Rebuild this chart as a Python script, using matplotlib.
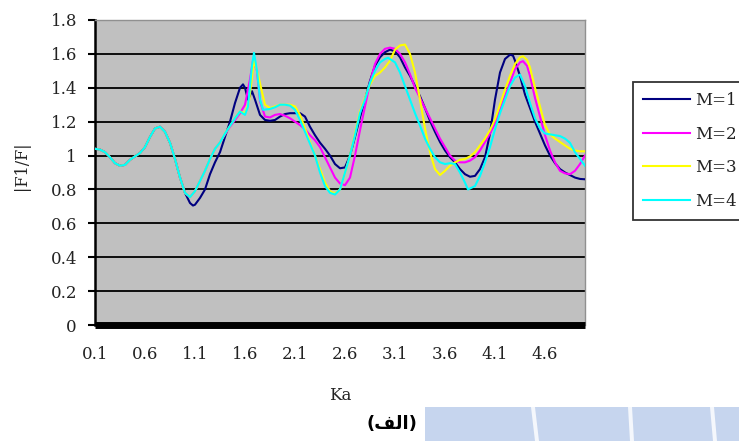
import matplotlib
matplotlib.use("Agg")
import matplotlib.pyplot as plt
from matplotlib.patches import Rectangle, Polygon

# ---------------- data ----------------
ka_common = [0.1, 0.15, 0.2, 0.25, 0.3, 0.35, 0.4, 0.45, 0.5, 0.55, 0.6, 0.65,
             0.7, 0.75, 0.8, 0.85, 0.9, 0.95]
f_common = [1.04, 1.035, 1.02, 0.99, 0.955, 0.94, 0.945, 0.975, 0.995, 1.015, 1.05, 1.11,
            1.16, 1.17, 1.14, 1.075, 0.98, 0.87]

ka_m1 = [1.0, 1.05, 1.08, 1.1, 1.15, 1.2, 1.25, 1.3, 1.35, 1.4, 1.45, 1.5, 1.55, 1.58,
         1.6, 1.63, 1.67, 1.7, 1.75, 1.8, 1.85, 1.9, 1.95, 2.0, 2.05, 2.1, 2.15, 2.2,
         2.25, 2.3, 2.35, 2.4, 2.45, 2.5, 2.55, 2.6, 2.65, 2.7, 2.75, 2.8, 2.85, 2.9,
         2.95, 3.0, 3.05, 3.1, 3.15, 3.2, 3.25, 3.3, 3.35, 3.4, 3.45, 3.5, 3.55, 3.6,
         3.65, 3.7, 3.75, 3.8, 3.85, 3.9, 3.95, 4.0, 4.05, 4.1, 4.15, 4.2, 4.25, 4.28,
         4.3, 4.35, 4.4, 4.45, 4.5, 4.55, 4.6, 4.65, 4.7, 4.75, 4.8, 4.85, 4.9, 4.95, 5.0]
f_m1 = [0.78, 0.72, 0.705, 0.71, 0.75, 0.8, 0.89, 0.96, 1.02, 1.11, 1.2, 1.31, 1.4, 1.42,
        1.4, 1.33, 1.38, 1.33, 1.24, 1.21, 1.205, 1.21, 1.23, 1.245, 1.25, 1.25, 1.25, 1.23,
        1.17, 1.12, 1.076, 1.04, 1.0, 0.95, 0.925, 0.93, 1.0, 1.11, 1.225, 1.33, 1.44, 1.53,
        1.58, 1.61, 1.625, 1.615, 1.58, 1.52, 1.47, 1.41, 1.35, 1.28, 1.205, 1.14, 1.08, 1.03,
        0.99, 0.96, 0.92, 0.89, 0.875, 0.88, 0.92, 0.99, 1.13, 1.33, 1.49, 1.57, 1.595, 1.59,
        1.56, 1.47, 1.36, 1.28, 1.2, 1.13, 1.06, 1.0, 0.955, 0.92, 0.9, 0.885, 0.87, 0.862, 0.86]

ka_m2 = [1.0, 1.05, 1.1, 1.15, 1.2, 1.25, 1.3, 1.35, 1.4, 1.45, 1.5, 1.55, 1.6, 1.65,
         1.68, 1.72, 1.75, 1.8, 1.85, 1.9, 1.95, 2.0, 2.05, 2.1, 2.15, 2.2, 2.25, 2.3,
         2.35, 2.4, 2.45, 2.5, 2.55, 2.6, 2.65, 2.7, 2.75, 2.8, 2.85, 2.9, 2.95, 3.0,
         3.05, 3.1, 3.15, 3.2, 3.25, 3.3, 3.35, 3.4, 3.45, 3.5, 3.55, 3.6, 3.65, 3.7,
         3.75, 3.8, 3.85, 3.9, 3.95, 4.0, 4.05, 4.1, 4.15, 4.2, 4.25, 4.3, 4.35, 4.38,
         4.42, 4.45, 4.5, 4.55, 4.6, 4.65, 4.7, 4.75, 4.8, 4.85, 4.9, 4.95, 5.0]
f_m2 = [0.78, 0.755, 0.79, 0.85, 0.91, 0.98, 1.04, 1.077, 1.125, 1.17, 1.21, 1.25, 1.3, 1.45,
        1.56, 1.5, 1.32, 1.23, 1.225, 1.24, 1.245, 1.235, 1.22, 1.2, 1.18, 1.155, 1.12, 1.09,
        1.05, 0.99, 0.93, 0.87, 0.835, 0.825, 0.87, 1.0, 1.15, 1.29, 1.43, 1.54, 1.6, 1.63,
        1.637, 1.63, 1.6, 1.55, 1.48, 1.4, 1.34, 1.28, 1.22, 1.16, 1.1, 1.05, 1.0, 0.97,
        0.96, 0.96, 0.97, 0.99, 1.03, 1.08, 1.13, 1.19, 1.27, 1.35, 1.43, 1.51, 1.55, 1.557,
        1.53, 1.47, 1.34, 1.23, 1.12, 1.03, 0.96, 0.91, 0.895, 0.89, 0.91, 0.95, 1.0]

ka_m3 = [1.0, 1.05, 1.1, 1.15, 1.2, 1.25, 1.3, 1.35, 1.4, 1.45, 1.5, 1.55, 1.6, 1.64,
         1.69, 1.73, 1.76, 1.8, 1.85, 1.9, 1.95, 2.0, 2.05, 2.1, 2.15, 2.2, 2.25, 2.3,
         2.35, 2.4, 2.45, 2.5, 2.55, 2.6, 2.65, 2.7, 2.75, 2.8, 2.85, 2.9, 2.95, 3.0,
         3.05, 3.1, 3.15, 3.2, 3.25, 3.3, 3.35, 3.4, 3.45, 3.5, 3.55, 3.6, 3.65, 3.7,
         3.75, 3.8, 3.85, 3.9, 3.95, 4.0, 4.05, 4.1, 4.15, 4.2, 4.25, 4.3, 4.35, 4.38,
         4.42, 4.45, 4.5, 4.55, 4.6, 4.65, 4.7, 4.75, 4.8, 4.85, 4.9, 4.95, 5.0]
f_m3 = [0.78, 0.755, 0.79, 0.85, 0.91, 0.98, 1.04, 1.077, 1.13, 1.175, 1.22, 1.26, 1.25, 1.32,
        1.56, 1.48, 1.4, 1.3, 1.28, 1.29, 1.3, 1.3, 1.3, 1.29, 1.24, 1.16, 1.08, 1.0,
        0.92, 0.84, 0.79, 0.775, 0.8, 0.9, 1.0, 1.13, 1.26, 1.34, 1.42, 1.47, 1.49, 1.52,
        1.56, 1.625, 1.65, 1.655, 1.6, 1.49, 1.33, 1.16, 1.02, 0.92, 0.885, 0.91, 0.94, 0.96,
        0.975, 0.98, 0.995, 1.02, 1.06, 1.1, 1.15, 1.215, 1.3, 1.39, 1.47, 1.54, 1.58, 1.586,
        1.565, 1.52, 1.4, 1.29, 1.18, 1.125, 1.1, 1.08, 1.06, 1.04, 1.03, 1.025, 1.025]

ka_m4 = [1.0, 1.05, 1.1, 1.15, 1.2, 1.25, 1.3, 1.35, 1.4, 1.45, 1.5, 1.55, 1.6, 1.63,
         1.67, 1.69, 1.72, 1.75, 1.78, 1.85, 1.9, 1.95, 2.0, 2.05, 2.1, 2.15, 2.2, 2.25,
         2.3, 2.35, 2.4, 2.45, 2.5, 2.55, 2.6, 2.65, 2.7, 2.75, 2.8, 2.85, 2.9, 2.95,
         3.0, 3.03, 3.1, 3.15, 3.2, 3.25, 3.3, 3.35, 3.4, 3.45, 3.5, 3.55, 3.6, 3.65,
         3.7, 3.75, 3.8, 3.83, 3.9, 3.95, 4.0, 4.05, 4.1, 4.15, 4.2, 4.25, 4.3, 4.35,
         4.4, 4.45, 4.5, 4.55, 4.6, 4.65, 4.7, 4.75, 4.8, 4.85, 4.9, 4.95, 5.0]
f_m4 = [0.78, 0.755, 0.79, 0.85, 0.91, 0.98, 1.04, 1.077, 1.13, 1.175, 1.22, 1.26, 1.24, 1.29,
        1.53, 1.606, 1.5, 1.33, 1.27, 1.275, 1.285, 1.3, 1.3, 1.295, 1.27, 1.21, 1.14, 1.07,
        1.0, 0.9, 0.82, 0.78, 0.77, 0.8, 0.9, 1.0, 1.12, 1.25, 1.33, 1.43, 1.5, 1.55,
        1.57, 1.577, 1.55, 1.49, 1.41, 1.33, 1.25, 1.177, 1.1, 1.04, 0.99, 0.96, 0.95, 0.955,
        0.95, 0.9, 0.84, 0.8, 0.82, 0.88, 0.96, 1.05, 1.155, 1.25, 1.33, 1.41, 1.46, 1.478,
        1.41, 1.31, 1.22, 1.16, 1.13, 1.125, 1.12, 1.115, 1.1, 1.075, 1.02, 0.98, 0.94]

labels = ["M=1", "M=2", "M=3", "M=4"]
colors = ["#000080", "#FF00FF", "#FFFF00", "#00FFFF"]
y_ticks = [0, 0.2, 0.4, 0.6, 0.8, 1.0, 1.2, 1.4, 1.6, 1.8]
y_ticklabels = ["0", "0.2", "0.4", "0.6", "0.8", "1", "1.2", "1.4", "1.6", "1.8"]
x_ticks = [0.1, 0.6, 1.1, 1.6, 2.1, 2.6, 3.1, 3.6, 4.1, 4.6]
x_ticklabels = ["0.1", "0.6", "1.1", "1.6", "2.1", "2.6", "3.1", "3.6", "4.1", "4.6"]

# ---------------- figure ----------------
W, H = 739, 441
fig = plt.figure(figsize=(W / 100, H / 100), dpi=100)
fig.patch.set_facecolor("white")

# light blue watermark band at the bottom
fig.patches.append(Rectangle((425 / W, 0), (W - 425) / W, (H - 407) / H,
                             transform=fig.transFigure, facecolor="#C6D5EE",
                             edgecolor="none", zorder=0))
for x0, x1 in [(531, 537), (628, 632), (710, 715)]:
    fig.patches.append(Polygon([(x0 / W, 1 - 407 / H), (x0 / W + 4 / W, 1 - 407 / H),
                                (x1 / W + 2 / W, 0), (x1 / W - 2 / W, 0)],
                               closed=True, transform=fig.transFigure,
                               facecolor="#F4F7FC", edgecolor="none", zorder=0))

left, right, top, bottom = 95, 585, 20, 325
ax = fig.add_axes([left / W, 1 - bottom / H, (right - left) / W, (bottom - top) / H])
ax.set_facecolor("#C0C0C0")

series = [(ka_m1, f_m1), (ka_m2, f_m2), (ka_m3, f_m3), (ka_m4, f_m4)]
for (kx, fy), lab, col in zip(series, labels, colors):
    ax.plot(ka_common + kx, f_common + fy, color=col, lw=1.5, label=lab, zorder=3)

ax.set_xlim(0.1, 5.0)
ax.set_ylim(0, 1.8)
ax.set_yticks(y_ticks)
ax.set_yticklabels(y_ticklabels)
ax.set_xticks(x_ticks)
ax.set_xticklabels(x_ticklabels)

for y in y_ticks[1:-1]:
    ax.axhline(y, color="black", lw=1.3, zorder=1)

serif = "DejaVu Serif"
for lab in ax.get_xticklabels() + ax.get_yticklabels():
    lab.set_fontfamily(serif)
    lab.set_fontsize(12)
    lab.set_color("#222222")

ax.tick_params(axis="y", direction="out", length=5, width=1.5, pad=8, color="black")
ax.tick_params(axis="x", length=0, pad=15)

ax.spines["left"].set_color("black")
ax.spines["left"].set_linewidth(1.8)
ax.spines["bottom"].set_color("black")
ax.spines["bottom"].set_linewidth(5)
ax.spines["bottom"].set_capstyle("butt")
ax.spines["bottom"].set_zorder(5)
for s in ["top", "right"]:
    ax.spines[s].set_color("#909090")
    ax.spines[s].set_linewidth(1.0)

# axis titles
fig.text(340 / W, 1 - 395 / H, "Ka", ha="center", va="center",
         fontfamily=serif, fontsize=12, color="#222222")
fig.text(22 / W, 1 - 166 / H, "|F1/F|", ha="center", va="center", rotation=90,
         fontfamily=serif, fontsize=11.5, color="#222222")

# caption (Arabic, visual order with contextual forms)
fig.text(392 / W, 1 - 424 / H, "(\ufed2\ufedf\u0627)", ha="center", va="center",
         fontfamily=["DejaVu Sans"], fontweight="bold", fontsize=13, color="black")

# legend
leg = ax.legend(loc="upper left", bbox_to_anchor=(633 / W, 1 - 82 / H),
                bbox_transform=fig.transFigure, borderaxespad=0,
                prop={"family": serif, "size": 12}, handlelength=2.8,
                handletextpad=0.35, labelspacing=1.0, borderpad=0.6,
                frameon=True, fancybox=False)
leg.get_frame().set_edgecolor("black")
leg.get_frame().set_linewidth(1.3)
for t in leg.get_texts():
    t.set_color("#222222")

fig.savefig("out.png", dpi=100)
